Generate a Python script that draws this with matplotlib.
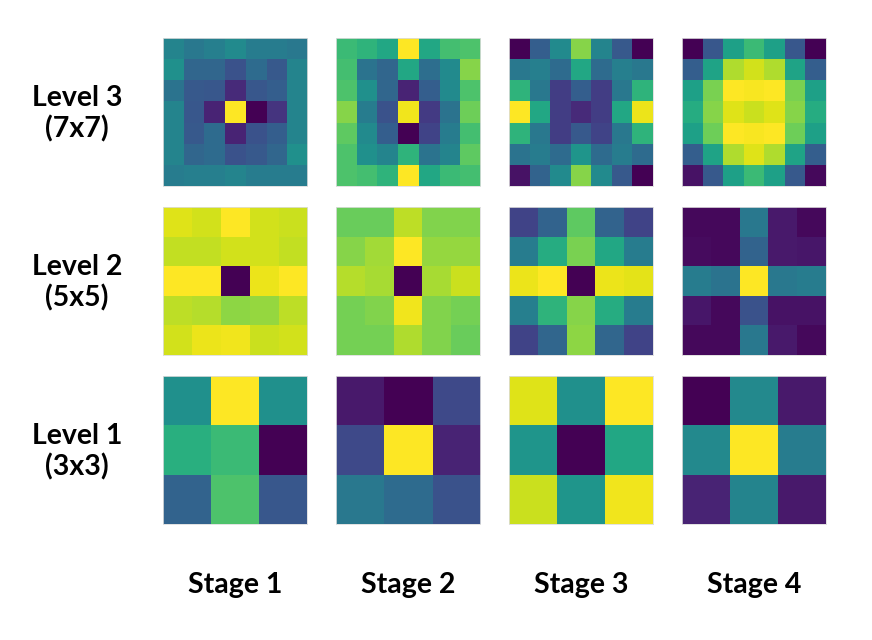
import numpy as np
import matplotlib.pyplot as plt

# kernel weights, normalised 0..1
level3_stage1 = [
    [0.45, 0.40, 0.43, 0.48, 0.42, 0.42, 0.40],
    [0.50, 0.33, 0.33, 0.25, 0.35, 0.28, 0.45],
    [0.38, 0.28, 0.27, 0.12, 0.27, 0.30, 0.45],
    [0.45, 0.27, 0.10, 1.00, 0.00, 0.15, 0.45],
    [0.45, 0.28, 0.35, 0.10, 0.25, 0.30, 0.45],
    [0.45, 0.33, 0.35, 0.25, 0.28, 0.33, 0.50],
    [0.42, 0.43, 0.43, 0.45, 0.42, 0.42, 0.42],
]
level3_stage2 = [
    [0.68, 0.65, 0.60, 1.00, 0.60, 0.70, 0.72],
    [0.70, 0.38, 0.33, 0.60, 0.36, 0.48, 0.82],
    [0.72, 0.50, 0.33, 0.10, 0.30, 0.48, 0.72],
    [0.82, 0.42, 0.25, 0.98, 0.17, 0.38, 0.78],
    [0.75, 0.48, 0.30, 0.00, 0.20, 0.42, 0.70],
    [0.72, 0.50, 0.45, 0.65, 0.38, 0.45, 0.75],
    [0.72, 0.70, 0.65, 1.00, 0.60, 0.68, 0.70],
]
level3_stage3 = [
    [0.00, 0.30, 0.48, 0.82, 0.45, 0.28, 0.00],
    [0.40, 0.43, 0.35, 0.60, 0.35, 0.43, 0.40],
    [0.65, 0.40, 0.18, 0.30, 0.18, 0.40, 0.65],
    [1.00, 0.60, 0.18, 0.12, 0.18, 0.60, 0.97],
    [0.65, 0.40, 0.18, 0.28, 0.20, 0.40, 0.65],
    [0.38, 0.42, 0.35, 0.52, 0.35, 0.42, 0.35],
    [0.05, 0.32, 0.48, 0.82, 0.48, 0.28, 0.00],
]
level3_stage4 = [
    [0.00, 0.27, 0.57, 0.68, 0.57, 0.27, 0.00],
    [0.30, 0.58, 0.88, 0.93, 0.88, 0.58, 0.30],
    [0.57, 0.80, 1.00, 0.99, 1.00, 0.80, 0.57],
    [0.62, 0.82, 0.95, 0.92, 0.95, 0.82, 0.62],
    [0.57, 0.78, 1.00, 0.99, 1.00, 0.78, 0.57],
    [0.30, 0.58, 0.88, 0.95, 0.88, 0.58, 0.30],
    [0.05, 0.28, 0.57, 0.68, 0.57, 0.28, 0.02],
]

level2_stage1 = [
    [0.95, 0.93, 1.00, 0.93, 0.92],
    [0.91, 0.91, 0.93, 0.93, 0.91],
    [1.00, 1.00, 0.00, 0.97, 1.00],
    [0.90, 0.89, 0.83, 0.84, 0.90],
    [0.93, 0.97, 0.98, 0.92, 0.93],
]
level2_stage2 = [
    [0.77, 0.77, 0.90, 0.81, 0.81],
    [0.82, 0.86, 1.00, 0.84, 0.84],
    [0.89, 0.87, 0.00, 0.87, 0.92],
    [0.79, 0.81, 0.98, 0.81, 0.79],
    [0.79, 0.79, 0.88, 0.81, 0.77],
]
level2_stage3 = [
    [0.20, 0.32, 0.75, 0.32, 0.20],
    [0.42, 0.62, 0.80, 0.60, 0.42],
    [0.97, 1.00, 0.00, 0.97, 0.96],
    [0.43, 0.65, 0.82, 0.62, 0.42],
    [0.20, 0.33, 0.83, 0.33, 0.20],
]
level2_stage4 = [
    [0.02, 0.02, 0.40, 0.07, 0.02],
    [0.03, 0.02, 0.32, 0.07, 0.06],
    [0.42, 0.38, 1.00, 0.40, 0.42],
    [0.06, 0.02, 0.25, 0.05, 0.05],
    [0.02, 0.02, 0.40, 0.07, 0.02],
]

level1_stage1 = [[0.50, 1.00, 0.50], [0.63, 0.68, 0.00], [0.32, 0.72, 0.27]]
level1_stage2 = [[0.07, 0.00, 0.22], [0.22, 1.00, 0.10], [0.40, 0.35, 0.25]]
level1_stage3 = [[0.95, 0.50, 1.00], [0.52, 0.00, 0.60], [0.92, 0.52, 0.98]]
level1_stage4 = [[0.00, 0.47, 0.07], [0.47, 1.00, 0.42], [0.10, 0.45, 0.07]]

row_labels = ["Level 3\n(7x7)", "Level 2\n(5x5)", "Level 1\n(3x3)"]
col_labels = ["Stage 1", "Stage 2", "Stage 3", "Stage 4"]

grid = [
    [level3_stage1, level3_stage2, level3_stage3, level3_stage4],
    [level2_stage1, level2_stage2, level2_stage3, level2_stage4],
    [level1_stage1, level1_stage2, level1_stage3, level1_stage4],
]

W, H = 872, 640
fig = plt.figure(figsize=(W / 100, H / 100), dpi=100)
font = dict(family=["Lato", "DejaVu Sans"], fontweight="bold", fontsize=20.5)

x0s = [163, 336, 509, 682]
y0s = [38, 207, 376]
pw, ph = 144, 148

for r, row in enumerate(grid):
    for c, k in enumerate(row):
        ax = fig.add_axes([x0s[c] / W, 1 - (y0s[r] + ph) / H, pw / W, ph / H])
        ax.imshow(np.array(k), cmap="viridis", vmin=0, vmax=1, aspect="auto")
        ax.set_xticks([])
        ax.set_yticks([])
        for s in ax.spines.values():
            s.set_color("#dddddd")
            s.set_linewidth(0.6)
    fig.text(77 / W, 1 - (y0s[r] + ph / 2 + 2) / H, row_labels[r],
             ha="center", va="center", linespacing=1.2, **font)

for c, lab in enumerate(col_labels):
    fig.text((x0s[c] + pw / 2) / W, 1 - 585 / H, lab, ha="center", va="center", **font)

fig.savefig("out.png", dpi=100)
